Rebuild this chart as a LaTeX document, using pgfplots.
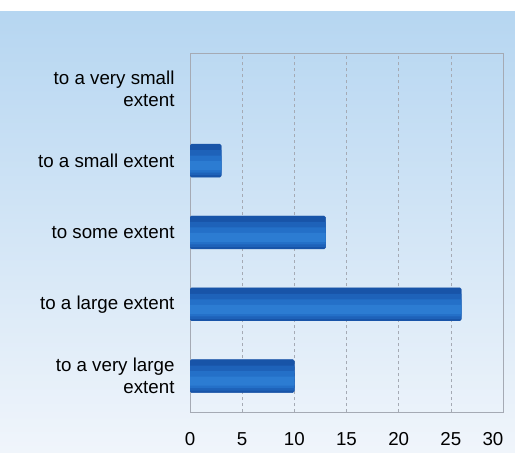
\documentclass[border=0pt]{standalone}
\usepackage{pgfplots}
\pgfplotsset{compat=1.18}
\usepackage{fontspec}
\setmainfont{Liberation Sans}
\definecolor{bgtop}{RGB}{182,214,241}
\definecolor{bgbot}{RGB}{240,245,251}
\definecolor{bar1}{RGB}{24,84,168}
\definecolor{bar2}{RGB}{30,98,185}
\definecolor{bar3}{RGB}{36,112,200}
\definecolor{bar4}{RGB}{44,124,210}
\definecolor{gridc}{RGB}{165,170,180}

\pgfplotstableread{
y val
0 10
1 26
2 13
3 3
}\mydata

\begin{document}
\begin{tikzpicture}
\useasboundingbox (0,0) rectangle (515bp,453bp);
\fill[white] (0,0) rectangle (515bp,453bp);
\shade[top color=bgtop, bottom color=bgbot] (0,0) rectangle (515bp,441bp);
\begin{axis}[
	at={(190bp,41bp)}, anchor=south west,
	scale only axis, width=313bp, height=359bp,
	xbar, bar width=33bp,
	xmin=0, xmax=30, ymin=-0.5, ymax=4.5,
	xtick={0,5,...,30},
	xticklabels={0,5,10,15,20,25,30\hspace*{20bp}},
	ytick={0,1,2,3,4},
	yticklabels={{to a very large\\extent},to a large extent,to some extent,to a small extent,{to a very small\\extent}},
	yticklabel style={align=right, font=\fontsize{18.8}{22}\selectfont, xshift=-12bp},
	xticklabel style={font=\fontsize{18.8}{22}\selectfont, yshift=-17bp},
	xmajorgrids, grid style={dashed, gridc, line width=0.4pt},
	axis line style={gridc, line width=0.5pt},
	major tick length=0pt,
	/pgf/number format/assume math mode=true,
]
\addplot[draw=bar1, fill=bar1, rounded corners=1.5bp, bar width=33bp, bar shift=0bp] table[x=val, y=y] {\mydata};
\addplot[draw=none, fill=bar2, bar width=25bp, bar shift=-2bp] table[x=val, y=y] {\mydata};
\addplot[draw=none, fill=bar3, bar width=17bp, bar shift=-3.5bp] table[x=val, y=y] {\mydata};
\addplot[draw=none, fill=bar4, bar width=9bp, bar shift=-5bp] table[x=val, y=y] {\mydata};
\end{axis}
\end{tikzpicture}
\end{document}
